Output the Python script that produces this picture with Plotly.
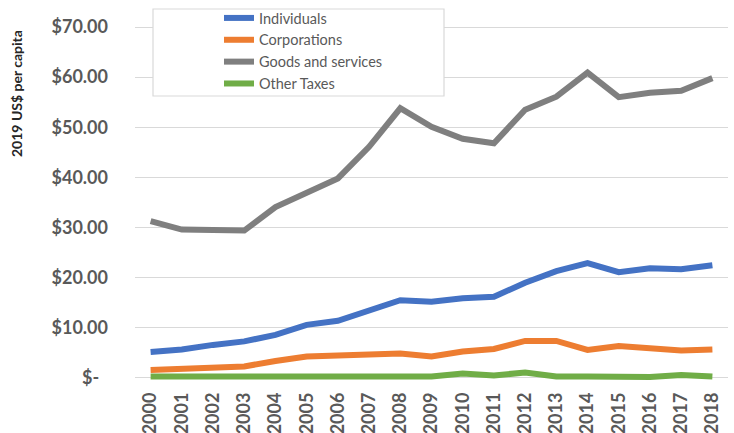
import plotly.graph_objects as go

years = [str(y) for y in range(2000, 2019)]
individuals = [5.2, 5.7, 6.6, 7.3, 8.6, 10.6, 11.4, 13.6, 15.5, 15.2, 15.9, 16.2, 19.0, 21.3, 22.9, 21.1, 21.9, 21.7, 22.5]
corporations = [1.6, 1.9, 2.1, 2.3, 3.4, 4.3, 4.5, 4.8, 4.9, 4.3, 5.3, 5.8, 7.4, 7.4, 5.6, 6.4, 5.9, 5.5, 5.7]
goods = [31.3, 29.6, 29.5, 29.4, 34.1, 36.9, 39.8, 46.1, 53.8, 50.1, 47.7, 46.8, 53.5, 56.1, 60.9, 56.0, 56.9, 57.3, 59.8]
other = [0.3, 0.3, 0.3, 0.3, 0.3, 0.3, 0.2, 0.15, 0.1, 0.3, 0.9, 0.5, 1.1, 0.3, 0.3, 0.3, 0.2, 0.6, 0.3]

series_names = ["Individuals", "Corporations", "Goods and services", "Other Taxes"]
series_values = [individuals, corporations, goods, other]
colors = ["#4472C4", "#ED7D31", "#7F7F7F", "#70AD47"]

tick_vals = [0, 10, 20, 30, 40, 50, 60, 70]
tick_text = ["$-\u00a0\u00a0", "$10.00", "$20.00", "$30.00", "$40.00", "$50.00", "$60.00", "$70.00"]

L, R, T, B = 135, 728, 24, 381
PW, PH = R - L, B - T

def px_x(x):
    return (x - L) / PW

def px_y(y):
    return (B - y) / PH

fig = go.Figure()
for name, vals, col in zip(series_names, series_values, colors):
    fig.add_trace(go.Scatter(x=years, y=vals, mode="lines", name=name,
                             line=dict(color=col, width=6)))

fig.update_layout(
    width=734, height=433,
    margin=dict(l=L, r=734 - R, t=T, b=433 - B, autoexpand=False),
    paper_bgcolor="white", plot_bgcolor="white",
    font=dict(family="Lato", color="#595959"),
    showlegend=True,
    legend=dict(x=px_x(153), y=px_y(2), xanchor="left", yanchor="top",
                borderwidth=0, bgcolor="rgba(0,0,0,0)",
                font=dict(size=14.5, color="#595959"), indentation=66,
                tracegroupgap=0),
    shapes=[dict(type="rect", xref="paper", yref="paper",
                 x0=px_x(153), x1=px_x(444), y0=px_y(96), y1=px_y(9),
                 line=dict(color="#d9d9d9", width=1.2), fillcolor="white", layer="above")],
    xaxis=dict(type="category", range=[-0.5, 18.5], showgrid=False,
               tickangle=-90, tickfont=dict(size=18, color="#595959", family="Lato", weight="bold"),
               showline=False, ticks="", ticklabelstandoff=7),
    yaxis=dict(range=[-0.6, 70.6], tickvals=tick_vals, ticktext=tick_text,
               showgrid=True, gridcolor="#d9d9d9", gridwidth=1, zeroline=False,
               tickfont=dict(size=18, color="#595959", family="Lato", weight="bold"),
               ticklabelstandoff=26, showline=False, ticks=""),
    annotations=[dict(text="<b>2019 US$ per capita</b>", textangle=-90,
                      xref="paper", yref="paper", x=px_x(17), y=px_y(94),
                      xanchor="center", yanchor="middle", showarrow=False,
                      font=dict(size=14, color="#262626", family="Lato"))],
)

fig.write_html("out.html")
